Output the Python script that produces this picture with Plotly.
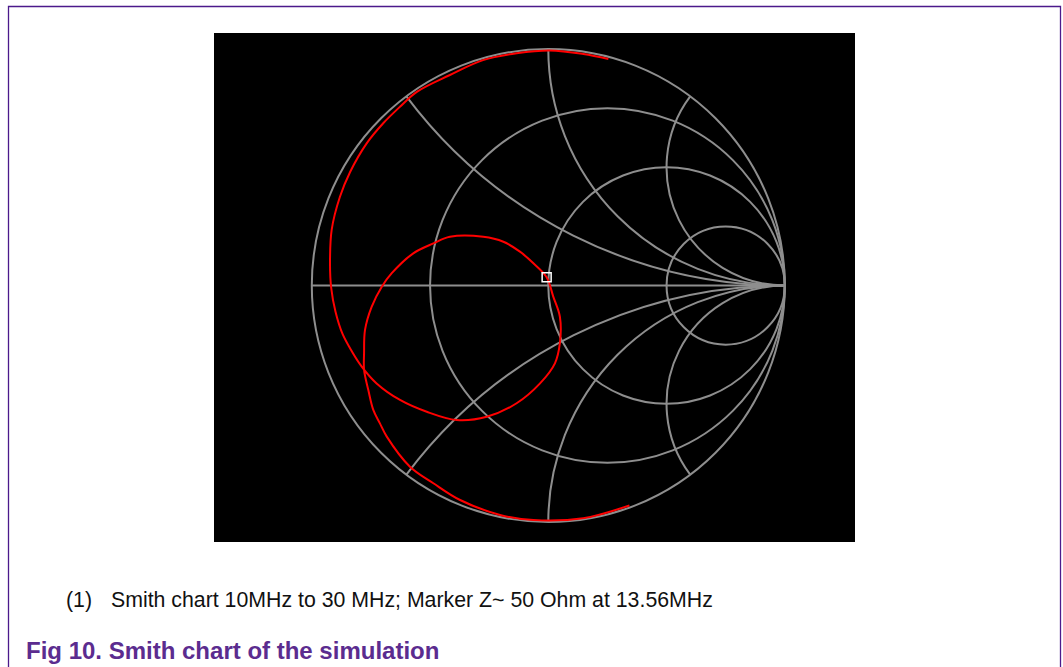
import numpy as np
import plotly.graph_objects as go

gamma_re = [0.343, 0.148, -0.063, -0.204, -0.373, -0.486, -0.585, -0.683, -0.712, -0.740,
            -0.761, -0.779, -0.779, -0.775, -0.747, -0.704, -0.662, -0.571, -0.486, -0.416,
            -0.275, -0.190, -0.120, -0.063, -0.007, 0.021, 0.049, 0.049, 0.028, -0.035,
            -0.134, -0.260, -0.387, -0.514, -0.627, -0.726, -0.789, -0.831, -0.870, -0.900,
            -0.918, -0.923, -0.916, -0.881, -0.838, -0.768, -0.698, -0.627, -0.556, -0.416,
            -0.276, -0.134, 0.007, 0.148, 0.254]
gamma_im = [-0.930, -0.984, -0.992, -0.970, -0.907, -0.836, -0.766, -0.639, -0.583, -0.526,
            -0.442, -0.357, -0.287, -0.188, -0.090, -0.005, 0.052, 0.136, 0.178, 0.206,
            0.206, 0.185, 0.143, 0.094, 0.035, -0.047, -0.132, -0.244, -0.329, -0.414,
            -0.498, -0.555, -0.569, -0.534, -0.484, -0.414, -0.343, -0.278, -0.205, -0.110,
            -0.010, 0.094, 0.235, 0.375, 0.480, 0.601, 0.686, 0.756, 0.819, 0.890,
            0.953, 0.982, 0.994, 0.979, 0.958]

marker_re = [-0.007]
marker_im = [0.035]

resistance_grid = [1/3, 1, 3]
reactance_grid = [-2, -1, -0.5, 0.5, 1, 2]

caption_num = "(1)"
caption_text = "Smith chart 10MHz to 30 MHz; Marker Z~ 50 Ohm at 13.56MHz"
fig_title = "Fig 10. Smith chart of the simulation"


def to_z(re, im):
    g = np.array(re) + 1j * np.array(im)
    return (1 + g) / (1 - g)


z = to_z(gamma_re, gamma_im)
zm = to_z(marker_re, marker_im)

W, H = 1063, 667
cx, cy, R = 548.3, 285.5, 236.5

fig = go.Figure()
fig.add_trace(go.Scattersmith(real=z.real, imag=z.imag, mode="lines",
                              line=dict(color="#ff0000", width=2, shape="spline", smoothing=1.0),
                              showlegend=False, hoverinfo="skip"))
fig.add_trace(go.Scattersmith(real=zm.real, imag=zm.imag, mode="markers",
                              marker=dict(symbol="square-open", size=9, color="#ffffff",
                                          line=dict(width=1.5, color="#ffffff")),
                              showlegend=False))

axis_gray = "#8e8e8e"
fig.update_layout(
    width=W, height=H,
    margin=dict(l=0, r=0, t=0, b=0),
    paper_bgcolor="#ffffff",
    smith=dict(
        bgcolor="#000000",
        domain=dict(x=[(cx - R) / W, (cx + R) / W], y=[1 - (cy + R) / H, 1 - (cy - R) / H]),
        realaxis=dict(tickvals=resistance_grid, showticklabels=False, ticks="",
                      gridcolor=axis_gray, gridwidth=2, linecolor=axis_gray, linewidth=2,
                      showline=True, layer="below traces"),
        imaginaryaxis=dict(tickvals=reactance_grid, showticklabels=False, ticks="",
                           gridcolor=axis_gray, gridwidth=2, linecolor=axis_gray, linewidth=2,
                           showline=True, layer="below traces"),
    ),
    shapes=[
        dict(type="rect", xref="paper", yref="paper", x0=214 / W, x1=855 / W,
             y0=1 - 542 / H, y1=1 - 33 / H, fillcolor="#000000", line=dict(width=0),
             layer="below"),
        dict(type="rect", xref="paper", yref="paper", x0=8.5 / W, x1=1060.5 / W,
             y0=-0.1, y1=1 - 6.5 / H, fillcolor="rgba(0,0,0,0)",
             line=dict(color="#4b1a8b", width=1.3), layer="above"),
    ],
    annotations=[
        dict(text=caption_num, x=64 / W, y=1 - 600 / H, xref="paper", yref="paper",
             xanchor="left", yanchor="middle", showarrow=False,
             font=dict(family="Liberation Sans, Arial", size=21.3, color="#111111")),
        dict(text=caption_text, x=109 / W, y=1 - 600 / H, xref="paper", yref="paper",
             xanchor="left", yanchor="middle", showarrow=False,
             font=dict(family="Liberation Sans, Arial", size=21.3, color="#111111")),
        dict(text="<b>" + fig_title + "</b>", x=24 / W, y=1 - 650 / H, xref="paper",
             yref="paper", xanchor="left", yanchor="middle", showarrow=False,
             font=dict(family="Liberation Sans, Arial", size=24, color="#5b2c8f")),
    ],
)

fig.write_html("out.html", config={"displayModeBar": False},
               post_script="document.body.style.margin='0';")
